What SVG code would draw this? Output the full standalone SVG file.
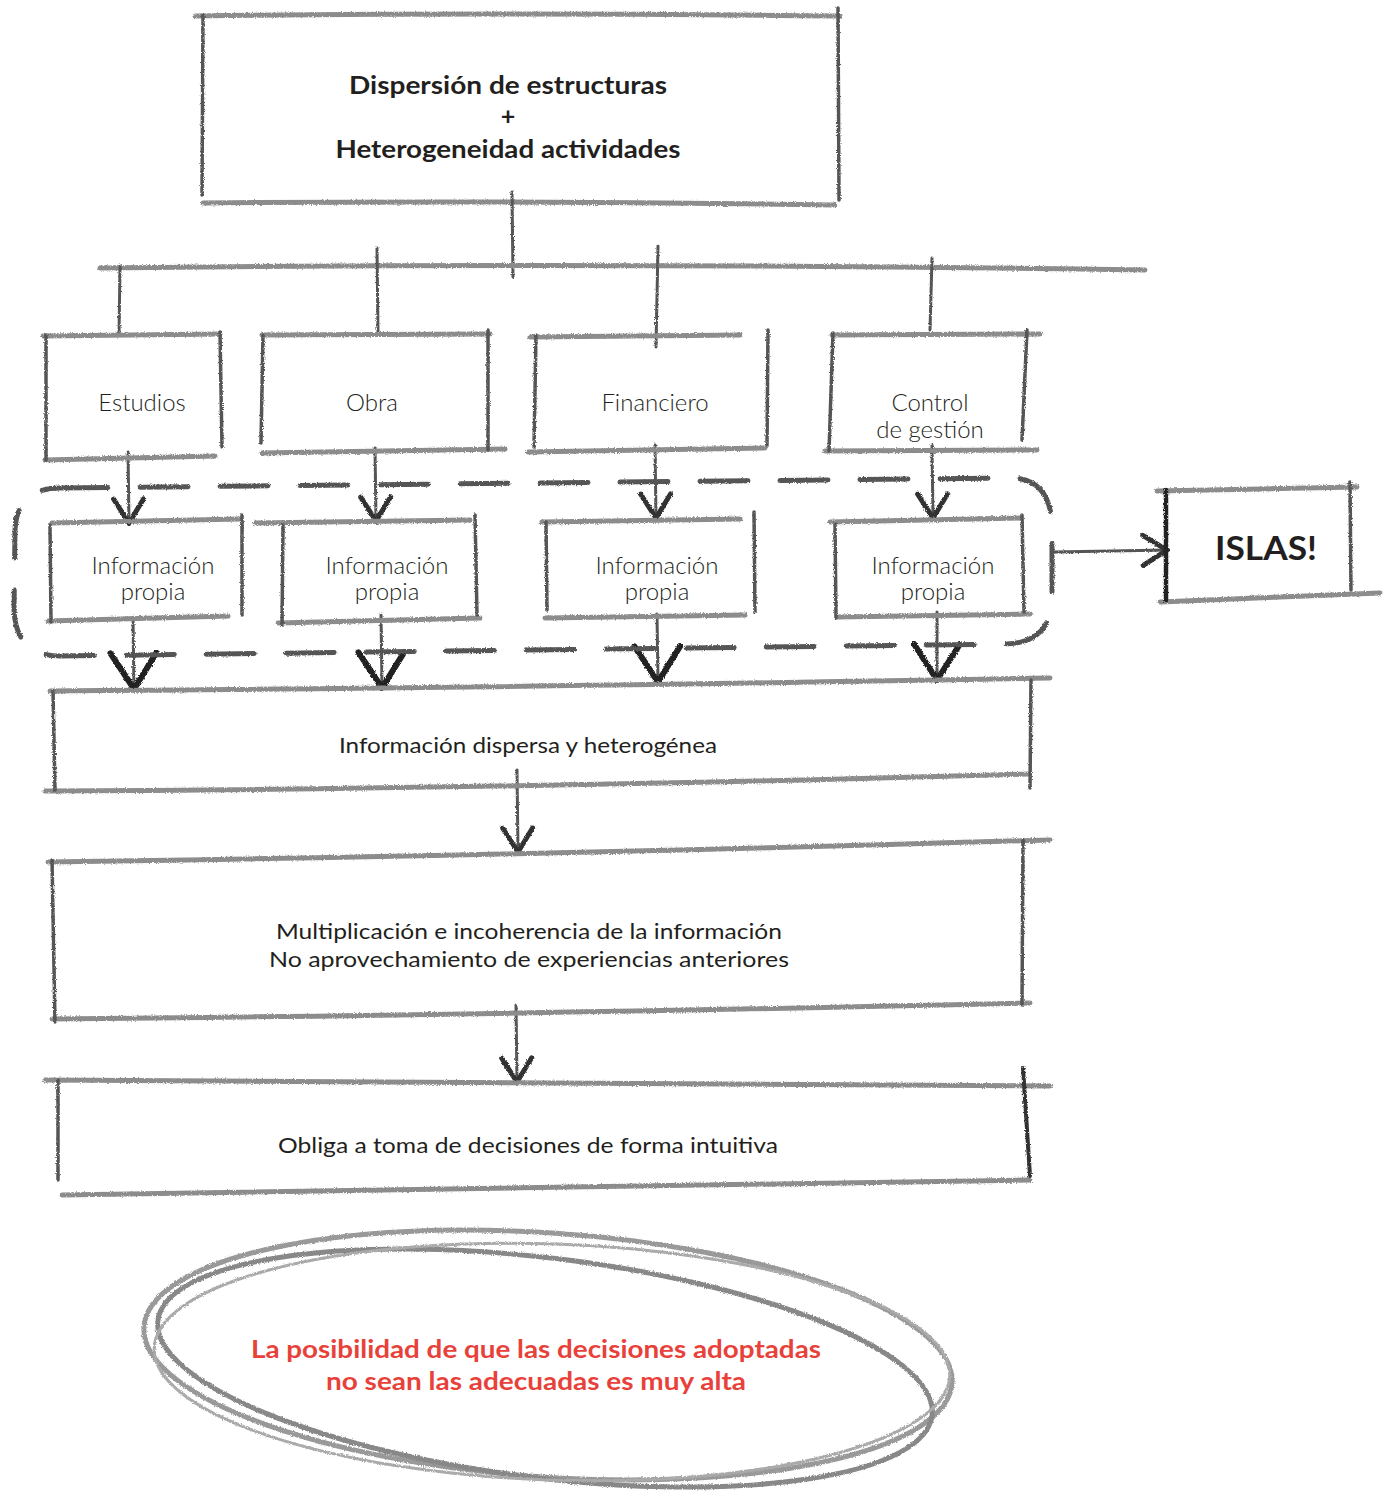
<svg xmlns="http://www.w3.org/2000/svg" width="1392" height="1501" viewBox="0 0 1392 1501">
<style>
.s{filter:url(#pencil)}
.h{fill:none;stroke:#8c8c8c;stroke-width:5;stroke-linecap:round}
.v{fill:none;stroke:#555;stroke-width:3.5;stroke-linecap:round}
.c{fill:none;stroke:#555;stroke-width:3;stroke-linecap:round}
.dash{fill:none;stroke:#555;stroke-width:5;stroke-dasharray:48 32;stroke-linecap:round}
.ell{fill:none;stroke:#999;stroke-width:5}
.t{font-family:Lato,"Liberation Sans",sans-serif;fill:#231f20;text-anchor:middle}
.lt{font-weight:300;font-size:24px}
.md{font-weight:400;font-size:22px}
.bd{font-weight:700;font-size:25px}
.red{fill:#e8413a;font-weight:700;font-size:24px}
</style>
<defs>
<filter id="pencil" filterUnits="userSpaceOnUse" x="0" y="0" width="1392" height="1501">
<feTurbulence type="fractalNoise" baseFrequency="0.9" numOctaves="2" seed="3" result="n"/>
<feDisplacementMap in="SourceGraphic" in2="n" scale="3" xChannelSelector="R" yChannelSelector="G"/>
</filter>
<marker id="ah" viewBox="0 0 30 36" refX="27" refY="18" markerWidth="30" markerHeight="36" markerUnits="userSpaceOnUse" orient="auto">
<path d="M3,3 L27,18 L3,33" fill="none" stroke="#333" stroke-width="5" stroke-linecap="round"/>
</marker>
<marker id="ahb" viewBox="0 0 42 52" refX="39" refY="26" markerWidth="42" markerHeight="52" markerUnits="userSpaceOnUse" orient="auto">
<path d="M3,3 L39,26 L3,49" fill="none" stroke="#222" stroke-width="6" stroke-linecap="round"/>
</marker>
</defs>

<g id="top">
<g class="s">
<path class="h" d="M195,16 Q500,12 840,16"/>
<path class="h" d="M203,203 Q520,200 835,205"/>
<path class="v" d="M203,15 L202,195"/>
<path class="v" d="M838,8 L839,200"/>
</g>
<text class="t bd" x="508" y="94" textLength="318" lengthAdjust="spacingAndGlyphs">Dispersión de estructuras</text>
<text class="t bd" x="508" y="125">+</text>
<text class="t bd" x="508" y="158" textLength="345" lengthAdjust="spacingAndGlyphs">Heterogeneidad actividades</text>
</g>

<g id="connectors" class="s">
<path class="c" d="M512,192 L513,277"/>
<path class="h" d="M100,268 Q600,262 1145,270"/>
<path class="c" d="M120,266 L119,335"/>
<path class="c" d="M377,248 L378,333"/>
<path class="c" d="M658,246 L656,347"/>
<path class="c" d="M932,258 L930,330"/>
<path class="c" d="M128,452 L129,523" marker-end="url(#ah)"/>
<path class="c" d="M375,448 L376,521" marker-end="url(#ah)"/>
<path class="c" d="M655,445 L656,518" marker-end="url(#ah)"/>
<path class="c" d="M932,445 L933,518" marker-end="url(#ah)"/>
<path class="c" d="M133,617 L134,689" marker-end="url(#ahb)"/>
<path class="c" d="M381,615 L382,688" marker-end="url(#ahb)"/>
<path class="c" d="M657,614 L658,682" marker-end="url(#ahb)"/>
<path class="c" d="M937,612 L937,680" marker-end="url(#ahb)"/>
<path class="c" d="M517,770 L518,852" marker-end="url(#ah)"/>
<path class="c" d="M516,1005 L517,1082" marker-end="url(#ah)"/>
<path class="c" d="M1055,552 L1167,550" marker-end="url(#ah)"/>
</g>

<g id="estudios">
<g class="s">
<path class="h" d="M43,336 L220,334"/>
<path class="h" d="M45,460 L215,456"/>
<path class="v" d="M46,335 L46,460"/>
<path class="v" d="M220,332 L222,447"/>
</g>
<text class="t lt" x="142" y="411">Estudios</text>
</g>
<g id="obra">
<g class="s">
<path class="h" d="M262,335 L490,334"/>
<path class="h" d="M262,453 L505,449"/>
<path class="v" d="M263,335 L261,443"/>
<path class="v" d="M488,330 L488,450"/>
</g>
<text class="t lt" x="372" y="411">Obra</text>
</g>
<g id="financiero">
<g class="s">
<path class="h" d="M530,337 L740,335"/>
<path class="h" d="M528,452 L765,448"/>
<path class="v" d="M536,335 L534,447"/>
<path class="v" d="M768,330 L767,445"/>
</g>
<text class="t lt" x="655" y="411">Financiero</text>
</g>
<g id="control">
<g class="s">
<path class="h" d="M832,335 L1040,334"/>
<path class="h" d="M825,451 L1037,450"/>
<path class="v" d="M833,333 L829,451"/>
<path class="v" d="M1027,330 L1022,440"/>
</g>
<text class="t lt" x="930" y="411">Control</text>
<text class="t lt" x="930" y="438">de gestión</text>
</g>

<g id="islas-group" class="s">
<path class="dash" d="M60,488 L1010,478 Q1050,478 1052,525 L1052,600 Q1050,643 1005,644 L60,656 Q16,656 14,610 L15,530 Q17,488 60,488 Z"/>
</g>

<g id="info1">
<g class="s">
<path class="h" d="M52,523 L240,519"/>
<path class="h" d="M48,621 L228,616"/>
<path class="v" d="M50,525 L51,622"/>
<path class="v" d="M242,515 L242,615"/>
</g>
<text class="t lt" x="153" y="574">Información</text>
<text class="t lt" x="153" y="600">propia</text>
</g>
<g id="info2">
<g class="s">
<path class="h" d="M255,523 L470,520"/>
<path class="h" d="M278,623 L480,618"/>
<path class="v" d="M283,525 L282,625"/>
<path class="v" d="M475,515 L477,615"/>
</g>
<text class="t lt" x="387" y="574">Información</text>
<text class="t lt" x="387" y="600">propia</text>
</g>
<g id="info3">
<g class="s">
<path class="h" d="M542,522 L740,519"/>
<path class="h" d="M545,618 L745,615"/>
<path class="v" d="M546,522 L547,610"/>
<path class="v" d="M754,512 L755,612"/>
</g>
<text class="t lt" x="657" y="574">Información</text>
<text class="t lt" x="657" y="600">propia</text>
</g>
<g id="info4">
<g class="s">
<path class="h" d="M830,522 L1020,518"/>
<path class="h" d="M838,617 L1030,614"/>
<path class="v" d="M835,524 L836,618"/>
<path class="v" d="M1022,515 L1024,612"/>
</g>
<text class="t lt" x="933" y="574">Información</text>
<text class="t lt" x="933" y="600">propia</text>
</g>

<g id="islas">
<g class="s">
<path class="h" d="M1157,491 L1357,487"/>
<path class="h" d="M1160,602 L1380,593"/>
<path class="v" d="M1166,490 L1166,600" style="stroke:#222;stroke-width:4.5"/>
<path class="v" d="M1350,482 L1351,590"/>
</g>
<text class="t bd" x="1266" y="560" style="font-size:32px" textLength="102" lengthAdjust="spacingAndGlyphs">ISLAS!</text>
</g>

<g id="dispersa">
<g class="s">
<path class="h" d="M50,691 Q500,688 1050,678"/>
<path class="h" d="M45,791 Q500,789 1028,774"/>
<path class="v" d="M53,691 L55,790"/>
<path class="v" d="M1031,680 L1030,788"/>
</g>
<text class="t md" x="528" y="753" textLength="378" lengthAdjust="spacingAndGlyphs">Información dispersa y heterogénea</text>
</g>

<g id="multiplicacion">
<g class="s">
<path class="h" d="M48,862 Q500,856 1050,840"/>
<path class="h" d="M52,1019 Q500,1015 1030,1003"/>
<path class="v" d="M52,860 L55,1022"/>
<path class="v" d="M1023,840 L1022,1005"/>
</g>
<text class="t md" x="529" y="939" textLength="506" lengthAdjust="spacingAndGlyphs">Multiplicación e incoherencia de la información</text>
<text class="t md" x="529" y="967" textLength="520" lengthAdjust="spacingAndGlyphs">No aprovechamiento de experiencias anteriores</text>
</g>

<g id="obliga">
<g class="s">
<path class="h" d="M45,1080 Q500,1082 1050,1086"/>
<path class="h" d="M62,1195 Q500,1188 1030,1180"/>
<path class="v" d="M58,1080 L58,1180"/>
<path class="v" d="M1023,1068 L1030,1176" style="stroke:#333;stroke-width:4"/>
</g>
<text class="t md" x="528" y="1153" textLength="500" lengthAdjust="spacingAndGlyphs">Obliga a toma de decisiones de forma intuitiva</text>
</g>

<g id="conclusion">
<g class="s">
<ellipse class="ell" cx="548" cy="1355" rx="405" ry="122" transform="rotate(4 548 1355)"/>
<ellipse class="ell" cx="545" cy="1368" rx="390" ry="110" transform="rotate(7 545 1368)" style="stroke:#888"/>
<ellipse class="ell" cx="552" cy="1362" rx="398" ry="118" transform="rotate(2 552 1362)" style="stroke:#aaa;stroke-width:3"/>
</g>
<text class="t red" x="536" y="1358" textLength="570" lengthAdjust="spacingAndGlyphs">La posibilidad de que las decisiones adoptadas</text>
<text class="t red" x="536" y="1390" textLength="420" lengthAdjust="spacingAndGlyphs">no sean las adecuadas es muy alta</text>
</g>
</svg>
